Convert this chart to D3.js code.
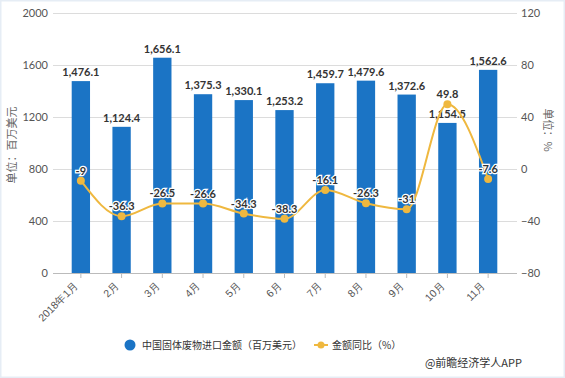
<!DOCTYPE html>
<html><head><meta charset="utf-8">
<script src="https://cdn.jsdelivr.net/npm/d3@7"></script>
<style>body{margin:0;background:#fff}svg{display:block;font-family:"Noto Sans CJK SC","Noto Sans",sans-serif}</style>
</head><body>
<script>
const categories = ["2018年1月","2月","3月","4月","5月","6月","7月","8月","9月","10月","11月"];
const importValues = [1476.1,1124.4,1656.1,1375.3,1330.1,1253.2,1459.7,1479.6,1372.6,1154.5,1562.6];
const yoyValues = [-9,-36.3,-26.5,-26.6,-34.3,-38.3,-16.1,-26.3,-31,49.8,-7.6];
const leftTicks = [0,400,800,1200,1600,2000];
const rightTicks = [-80,-40,0,40,80,120];
const seriesNames = ["中国固体废物进口金额（百万美元）","金额同比（%）"];
const leftTitle = "单位：百万美元";
const rightTitle = "单位：%";
const source = "@前瞻经济学人APP";

const W=565,H=378;
const svg=d3.select("body").append("svg").attr("width",W).attr("height",H);
svg.append("rect").attr("x",0.5).attr("y",0.5).attr("width",W-1).attr("height",H-1).attr("fill","#fff").attr("stroke","#e6edf5").attr("stroke-width",2);

const x=d3.scaleBand().domain(categories).range([60.5,508.5]).paddingInner(0.55).paddingOuter(0.275);
const yL=d3.scaleLinear().domain([0,2000]).range([273,13]);
const yR=d3.scaleLinear().domain([-80,120]).range([273,13]);
const barColor="#1b74c5", lineColor="#efb83f";

// grid
svg.append("g").selectAll("line").data(leftTicks.slice(1)).join("line")
  .attr("x1",53).attr("x2",517).attr("y1",d=>yL(d)+0.5).attr("y2",d=>yL(d)+0.5)
  .attr("stroke","#dcdcdc").attr("stroke-width",1);

// left axis
const gl=svg.append("g").attr("transform","translate(53,0)")
  .call(d3.axisLeft(yL).tickValues(leftTicks).tickFormat(d3.format("d")).tickSize(0).tickPadding(5));
gl.select(".domain").remove();
gl.selectAll("text").attr("fill","#555").attr("font-size",11).attr("font-family","Lato, sans-serif");

// right axis
const gr=svg.append("g").attr("transform","translate(517,0)")
  .call(d3.axisRight(yR).tickValues(rightTicks).tickFormat(d3.format("d")).tickSize(0).tickPadding(4));
gr.select(".domain").remove();
gr.selectAll("text").attr("fill","#555").attr("font-size",11).attr("font-family","Lato, sans-serif");

// bars
svg.append("g").selectAll("rect").data(importValues).join("rect")
  .attr("x",(d,i)=>x(categories[i])).attr("width",x.bandwidth())
  .attr("y",d=>yL(d)).attr("height",d=>yL(0)-yL(d)).attr("fill",barColor);

// x axis
const gx=svg.append("g").attr("transform","translate(0,273)")
  .call(d3.axisBottom(x).tickSize(5).tickSizeOuter(0));
gx.select(".domain").attr("d","M53,0.5H517").attr("stroke","#bbb");
gx.selectAll(".tick line").attr("stroke","#bbb");
gx.selectAll("text").attr("fill","#555").attr("font-size",10.5)
  .attr("text-anchor","end").attr("dy",0).attr("y",0)
  .attr("transform","translate(-2,13) rotate(-45)");

// bar labels
svg.append("g").selectAll("text").data(importValues).join("text")
  .attr("x",(d,i)=>x(categories[i])+x.bandwidth()/2).attr("y",d=>yL(d)-5)
  .attr("text-anchor","middle").attr("font-size",11).attr("font-weight","bold")
  .attr("fill","#333").attr("font-family","Lato, sans-serif")
  .text(d=>d3.format(",.1f")(d));

// line
const cx=(i)=>x(categories[i])+x.bandwidth()/2;
const line=d3.line().x((d,i)=>cx(i)).y(d=>yR(d)).curve(d3.curveMonotoneX);
svg.append("path").datum(yoyValues).attr("d",line).attr("fill","none")
  .attr("stroke",lineColor).attr("stroke-width",2);
svg.append("g").selectAll("circle").data(yoyValues).join("circle")
  .attr("cx",(d,i)=>cx(i)).attr("cy",d=>yR(d)).attr("r",4).attr("fill",lineColor);
svg.append("g").selectAll("text").data(yoyValues).join("text")
  .attr("x",(d,i)=>cx(i)).attr("y",d=>yR(d)-6)
  .attr("text-anchor","middle").attr("font-size",11).attr("font-weight","bold")
  .attr("fill","#333").attr("stroke","#fff").attr("stroke-width",2.5).attr("paint-order","stroke")
  .attr("font-family","Lato, sans-serif")
  .text(d=>d);

// axis titles
svg.append("text").attr("transform","translate(16,145) rotate(-90)").attr("text-anchor","middle")
  .attr("font-size",11).attr("fill","#666").text(leftTitle);
svg.append("text").attr("transform","translate(544,130) rotate(90)").attr("text-anchor","middle")
  .attr("font-size",11).attr("fill","#666").text(rightTitle);

// legend
svg.append("circle").attr("cx",130).attr("cy",345).attr("r",5.5).attr("fill",barColor);
svg.append("text").attr("x",142).attr("y",349).attr("font-size",10).attr("fill","#333").text(seriesNames[0]);
svg.append("line").attr("x1",314).attr("x2",328).attr("y1",345).attr("y2",345).attr("stroke",lineColor).attr("stroke-width",2);
svg.append("circle").attr("cx",321).attr("cy",345).attr("r",3.5).attr("fill",lineColor);
svg.append("text").attr("x",332).attr("y",349).attr("font-size",10).attr("fill","#333").text(seriesNames[1]);

// source
svg.append("text").attr("x",522).attr("y",367).attr("text-anchor","end").attr("font-size",11).attr("fill","#333").text(source);
</script>
</body></html>
